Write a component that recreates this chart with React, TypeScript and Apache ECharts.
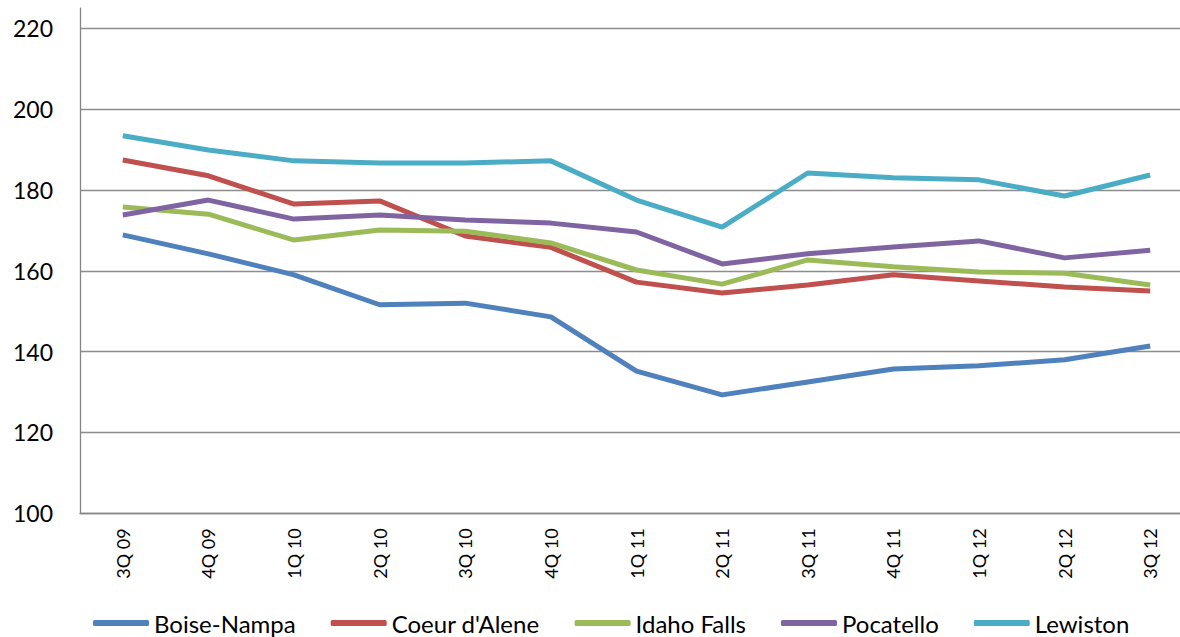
import React, { useEffect, useRef } from "react";
import * as echarts from "echarts";

const categories = ["3Q 09", "4Q 09", "1Q 10", "2Q 10", "3Q 10", "4Q 10", "1Q 11", "2Q 11", "3Q 11", "4Q 11", "1Q 12", "2Q 12", "3Q 12"];

const boiseNampa = [168.9, 164.2, 159.0, 151.6, 152.0, 148.6, 135.2, 129.3, 132.5, 135.7, 136.5, 138.0, 141.4];
const coeurDAlene = [187.4, 183.5, 176.5, 177.3, 168.6, 165.8, 157.2, 154.5, 156.5, 159.0, 157.5, 156.0, 155.0];
const idahoFalls = [175.8, 174.0, 167.6, 170.1, 169.8, 166.9, 160.2, 156.7, 162.7, 161.0, 159.7, 159.4, 156.5];
const pocatello = [173.8, 177.5, 172.8, 173.8, 172.6, 171.8, 169.6, 161.7, 164.2, 165.9, 167.4, 163.2, 165.1];
const lewiston = [193.4, 189.9, 187.2, 186.7, 186.7, 187.2, 177.5, 170.8, 184.2, 183.0, 182.5, 178.5, 183.7];

const seriesNames = ["Boise-Nampa", "Coeur d'Alene", "Idaho Falls", "Pocatello", "Lewiston"];
const seriesData = [boiseNampa, coeurDAlene, idahoFalls, pocatello, lewiston];
const colors = ["#4F81BD", "#C0504D", "#9BBB59", "#8064A2", "#4BACC6"];

const FONT = "Lato, 'Open Sans', sans-serif";

export default function App() {
  const ref = useRef<HTMLDivElement>(null);
  useEffect(() => {
    if (!ref.current) return;
    const chart = echarts.init(ref.current, null, { renderer: "svg" });
    chart.setOption({
      animation: false,
      color: colors,
      grid: { left: 80, top: 8.1, width: 1113, height: 505.2, containLabel: false, outerBoundsMode: "none" },
      xAxis: {
        type: "category",
        data: categories,
        boundaryGap: true,
        axisLine: { show: true, lineStyle: { color: "#868686", width: 1.3 } },
        axisTick: { show: false },
        axisLabel: { rotate: 90, margin: 15, fontSize: 18, color: "#000", fontFamily: FONT, interval: 0 },
        splitLine: { show: false },
      },
      yAxis: {
        type: "value",
        min: 100,
        max: 225,
        interval: 20,
        axisLine: { show: true, lineStyle: { color: "#868686", width: 1.3 } },
        axisTick: { show: false },
        axisLabel: { fontSize: 23, color: "#000", fontFamily: FONT, margin: 27, showMaxLabel: false },
        splitLine: { show: true, showMaxLine: false, lineStyle: { color: "#8c8c8c", width: 1.3 } },
      },
      legend: {
        show: true,
        left: 88,
        top: 606,
        icon: "roundRect",
        itemWidth: 56,
        itemHeight: 6,
        itemGap: 35,
        textStyle: { fontSize: 24, color: "#000", fontFamily: FONT },
        data: seriesNames,
      },
      series: seriesNames.map((name, i) => ({
        name,
        type: "line",
        data: seriesData[i],
        showSymbol: false,
        symbol: "none",
        lineStyle: { width: 5, color: colors[i] },
        itemStyle: { color: colors[i] },
      })),
    });
    return () => chart.dispose();
  }, []);
  return (
    <div
      ref={ref}
      style={{ position: "fixed", left: 0, top: 0, width: 1180, height: 637, background: "#fff" }}
    />
  );
}
